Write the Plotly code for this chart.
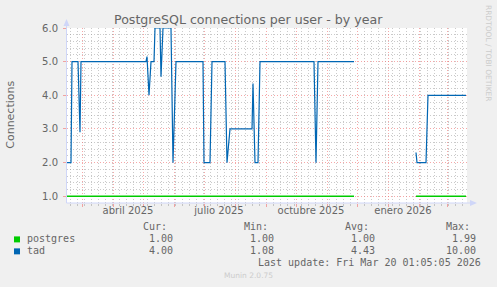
import plotly.graph_objects as go

# ---------------- data ----------------
tad_dates = ["2025-02-14", "2025-02-18", "2025-02-19", "2025-02-25", "2025-02-27", "2025-02-28",
             "2025-05-04", "2025-05-05", "2025-05-07", "2025-05-09", "2025-05-12", "2025-05-13",
             "2025-05-18", "2025-05-19", "2025-05-21", "2025-05-29", "2025-05-31", "2025-06-03",
             "2025-06-30", "2025-07-01", "2025-07-07", "2025-07-09", "2025-07-22", "2025-07-24",
             "2025-07-27", "2025-08-18", "2025-08-19", "2025-08-21", "2025-08-24", "2025-08-26",
             "2025-10-19", "2025-10-21", "2025-10-23", "2025-11-28", "2025-12-30",
             "2026-01-29", "2026-01-30", "2026-02-08", "2026-02-10", "2026-03-20"]
tad_values = [2.0, 2.0, 5.0, 5.0, 2.9, 5.0,
              5.0, 5.15, 4.0, 5.0, 5.0, 6.0,
              6.0, 4.55, 6.0, 6.0, 2.0, 5.0,
              5.0, 2.0, 2.0, 5.0, 5.0, 2.0,
              3.0, 3.0, 4.35, 2.0, 2.0, 5.0,
              5.0, 2.0, 5.0, 5.0, None,
              2.3, 2.0, 2.0, 4.0, 4.0]

pg_dates = ["2025-02-14", "2025-11-28", "2025-12-30", "2026-01-29", "2026-03-20"]
pg_values = [1.0, 1.0, None, 1.0, 1.0]

series_names = ["postgres", "tad"]
series_colors = ["#00cc00", "#0066b3"]
stat_cur = ["1.00", "4.00"]
stat_min = ["1.00", "1.08"]
stat_avg = ["1.00", "4.43"]
stat_max = ["1.99", "10.00"]

x_label_vals = ["2025-04-16", "2025-07-16", "2025-10-16", "2026-01-16"]
x_label_text = ["abril 2025", "julio 2025", "octubre 2025", "enero 2026"]
x_range = ["2025-02-14", "2026-03-21"]
y_range = [0.8, 6.0]

title = "PostgreSQL connections per user - by year"
y_title = "Connections"
last_update = "Last update: Fri Mar 20 01:05:05 2026"
footer = "Munin 2.0.75"
side_text = "RRDTOOL / TOBI OETIKER"

# ---------------- layout geometry ----------------
W, H = 497, 287
L, R, T, B = 67, 467, 28, 203.5


def px(x):
    return (x - L) / (R - L)


def py(y):
    return (B - y) / (B - T)


FONT = "DejaVu Sans"
MONO = "DejaVu Sans Mono"
TXT = "#666666"
AXIS = "#cfd6f8"
MGRID = "rgba(240,110,110,0.6)"
GRID = "rgba(150,150,150,0.5)"

fig = go.Figure()
fig.add_trace(go.Scatter(x=pg_dates, y=pg_values, mode="lines", name=series_names[0],
                         line=dict(color=series_colors[0], width=1.5), connectgaps=False))
fig.add_trace(go.Scatter(x=tad_dates, y=tad_values, mode="lines", name=series_names[1],
                         line=dict(color=series_colors[1], width=1.2), connectgaps=False))
# invisible trace for the label axis
fig.add_trace(go.Scatter(x=x_range, y=[None, None], xaxis="x2", showlegend=False, hoverinfo="skip"))

fig.update_layout(
    width=W, height=H,
    margin=dict(l=L, r=W - R, t=T, b=H - B),
    paper_bgcolor="#f0f0f0", plot_bgcolor="#ffffff",
    showlegend=False,
    font=dict(family=FONT, color=TXT, size=10),
    xaxis=dict(type="date", range=x_range, showticklabels=False,
               tick0="2025-01-01", dtick="M1",
               showgrid=True, gridcolor=MGRID, griddash="1px,2px", gridwidth=1,
               ticks="outside", ticklen=3, tickcolor=MGRID,
               minor=dict(dtick=7 * 86400000, tick0="2025-03-10", showgrid=True,
                          gridcolor=GRID, griddash="1px,2px", ticks="outside",
                          ticklen=2, tickcolor=GRID),
               zeroline=False, showline=False),
    xaxis2=dict(type="date", range=x_range, overlaying="x", side="bottom", anchor="y",
                tickmode="array", tickvals=x_label_vals, ticktext=x_label_text,
                showgrid=False, zeroline=False, ticks="", showline=False,
                tickfont=dict(family=FONT, size=10, color=TXT)),
    yaxis=dict(range=y_range, tickmode="linear", tick0=0, dtick=1, tickformat=".1f",
               showgrid=True, gridcolor=MGRID, griddash="1px,2px",
               ticks="outside", ticklen=3, tickcolor=MGRID,
               ticklabelstandoff=3,
               minor=dict(dtick=0.2, tick0=0, showgrid=True, gridcolor=GRID,
                          griddash="1px,2px"),
               zeroline=False, showline=False,
               tickfont=dict(family=FONT, size=10, color=TXT)),
)

shapes = []
# axis lines and arrows
shapes.append(dict(type="line", xref="paper", yref="paper", x0=px(66.5), x1=px(66.5),
                   y0=py(B), y1=py(23), line=dict(color=AXIS, width=1)))
shapes.append(dict(type="line", xref="paper", yref="paper", x0=px(66.5), x1=px(472),
                   y0=py(B), y1=py(B), line=dict(color=AXIS, width=1)))
shapes.append(dict(type="path", xref="paper", yref="paper",
                   path=f"M {px(63.5)} {py(26)} L {px(69.5)} {py(26)} L {px(66.5)} {py(19)} Z",
                   fillcolor=AXIS, line=dict(color=AXIS, width=0)))
shapes.append(dict(type="path", xref="paper", yref="paper",
                   path=f"M {px(470)} {py(B-3)} L {px(470)} {py(B+3)} L {px(477)} {py(B)} Z",
                   fillcolor=AXIS, line=dict(color=AXIS, width=0)))
# legend boxes
for i, c in enumerate(series_colors):
    yc = 240 + 12 * i
    shapes.append(dict(type="rect", xref="paper", yref="paper",
                       x0=px(14), x1=px(20), y0=py(yc - 3), y1=py(yc + 3),
                       fillcolor=c, line=dict(width=0)))

ann = []


def text(s, x, y, xanchor="left", size=10, family=MONO, color=TXT, angle=0):
    ann.append(dict(text=s, x=px(x), y=py(y), xref="paper", yref="paper",
                    xanchor=xanchor, yanchor="middle", showarrow=False,
                    textangle=angle, borderpad=0,
                    font=dict(family=family, size=size, color=color)))


text(title, 248.5, 19, "center", size=12.6, family=FONT)
text(y_title, 11, 115, "center", size=11, family=FONT, angle=-90)
text(side_text, 488, 53, "center", size=7.5, family=FONT, color="#cccccc", angle=90)

cols = [174, 275, 376, 477]
for h, cx in zip(["Cur:", "Min:", "Avg:", "Max:"], cols):
    text(h, cx - 6, 227.5, "right")
for i, name in enumerate(series_names):
    yc = 239.5 + 12 * i
    text(name, 26, yc, "left")
    for v, cx in zip([stat_cur[i], stat_min[i], stat_avg[i], stat_max[i]], cols):
        text(v, cx, yc, "right")
text(last_update, 482, 263.5, "right")
text(footer, 248, 276, "center", size=7.5, family=FONT, color="#cccccc")

fig.update_layout(shapes=shapes, annotations=ann)
fig.write_html("out.html")
